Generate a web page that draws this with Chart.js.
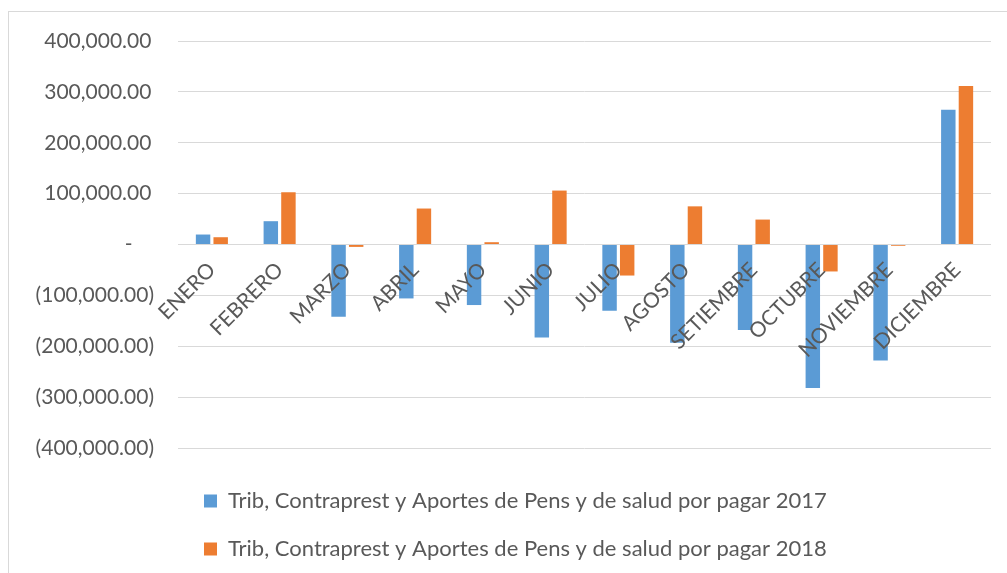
<!DOCTYPE html>
<html>
<head>
<meta charset="utf-8">
<script src="https://cdn.jsdelivr.net/npm/chart.js@4"></script>
<style>
  html, body { margin: 0; overflow: hidden; background: #fff; }
  #frame { position: absolute; left: 8px; top: 11px; width: 1100px; height: 700px; border: 1px solid #d9d9d9; }
  #wrap { position: absolute; left: 0; top: 0; width: 1007px; height: 573px; }
</style>
</head>
<body>
<div id="frame"></div>
<div id="wrap"><canvas id="myChart"></canvas></div>
<script>
var meses = ['ENERO', 'FEBRERO', 'MARZO', 'ABRIL', 'MAYO', 'JUNIO', 'JULIO', 'AGOSTO', 'SETIEMBRE', 'OCTUBRE', 'NOVIEMBRE', 'DICIEMBRE'];
var valores2017 = [19600, 45800, -142000, -106000, -119000, -183000, -130000, -193000, -168000, -282000, -228000, 265000];
var valores2018 = [14300, 102700, -4700, 70700, 4500, 106000, -61000, 75000, 49000, -53000, -2500, 311600];
var serie2017 = 'Trib, Contraprest y Aportes de Pens y de salud por pagar 2017';
var serie2018 = 'Trib, Contraprest y Aportes de Pens y de salud por pagar 2018';

function formato(v) {
  if (v === 0) return '-    ';
  var s = Math.abs(v).toLocaleString('en-US', { minimumFractionDigits: 2, maximumFractionDigits: 2 });
  return v < 0 ? '(' + s + ')' : s + '\u2009';
}

var fuente = "Lato, 'Liberation Sans', sans-serif";
var gris = '#595959';

var ctx = document.getElementById('myChart').getContext('2d');
var myChart = new Chart(ctx, {
  type: 'bar',
  data: {
    labels: meses,
    datasets: [{
      label: serie2017,
      data: valores2017,
      backgroundColor: '#5b9bd5',
      categoryPercentage: 0.52,
      barPercentage: 0.82
    }, {
      label: serie2018,
      data: valores2018,
      backgroundColor: '#ed7d31',
      categoryPercentage: 0.52,
      barPercentage: 0.82
    }]
  },
  options: {
    responsive: true,
    maintainAspectRatio: false,
    animation: false,
    layout: { padding: { left: 0, right: 16, top: 41, bottom: 3 } },
    scales: {
      x: {
        position: { y: 0 },
        grid: { display: false },
        border: { display: false },
        ticks: {
          z: 1,
          autoSkip: false,
          minRotation: 45,
          maxRotation: 45,
          padding: 5,
          color: gris,
          font: { family: fuente, size: 21 }
        }
      },
      y: {
        min: -400000,
        max: 400000,
        afterFit: function (scale) { scale.width = 178; },
        grid: { color: '#d9d9d9', lineWidth: 1, drawTicks: false },
        border: { display: false },
        ticks: {
          stepSize: 100000,
          padding: 24,
          color: gris,
          font: { family: fuente, size: 21 },
          callback: function (v) { return formato(v); }
        }
      }
    },
    plugins: {
      tooltip: { enabled: false },
      legend: {
        position: 'bottom',
        align: 'start',
        fullSize: false,
        title: { display: true, text: ' ', font: { size: 10 }, padding: { top: 4, bottom: 0 } },
        labels: {
          boxWidth: 13,
          boxHeight: 13,
          padding: 26,
          color: gris,
          font: { family: fuente, size: 22 }
        }
      }
    }
  }
});
</script>
</body>
</html>
